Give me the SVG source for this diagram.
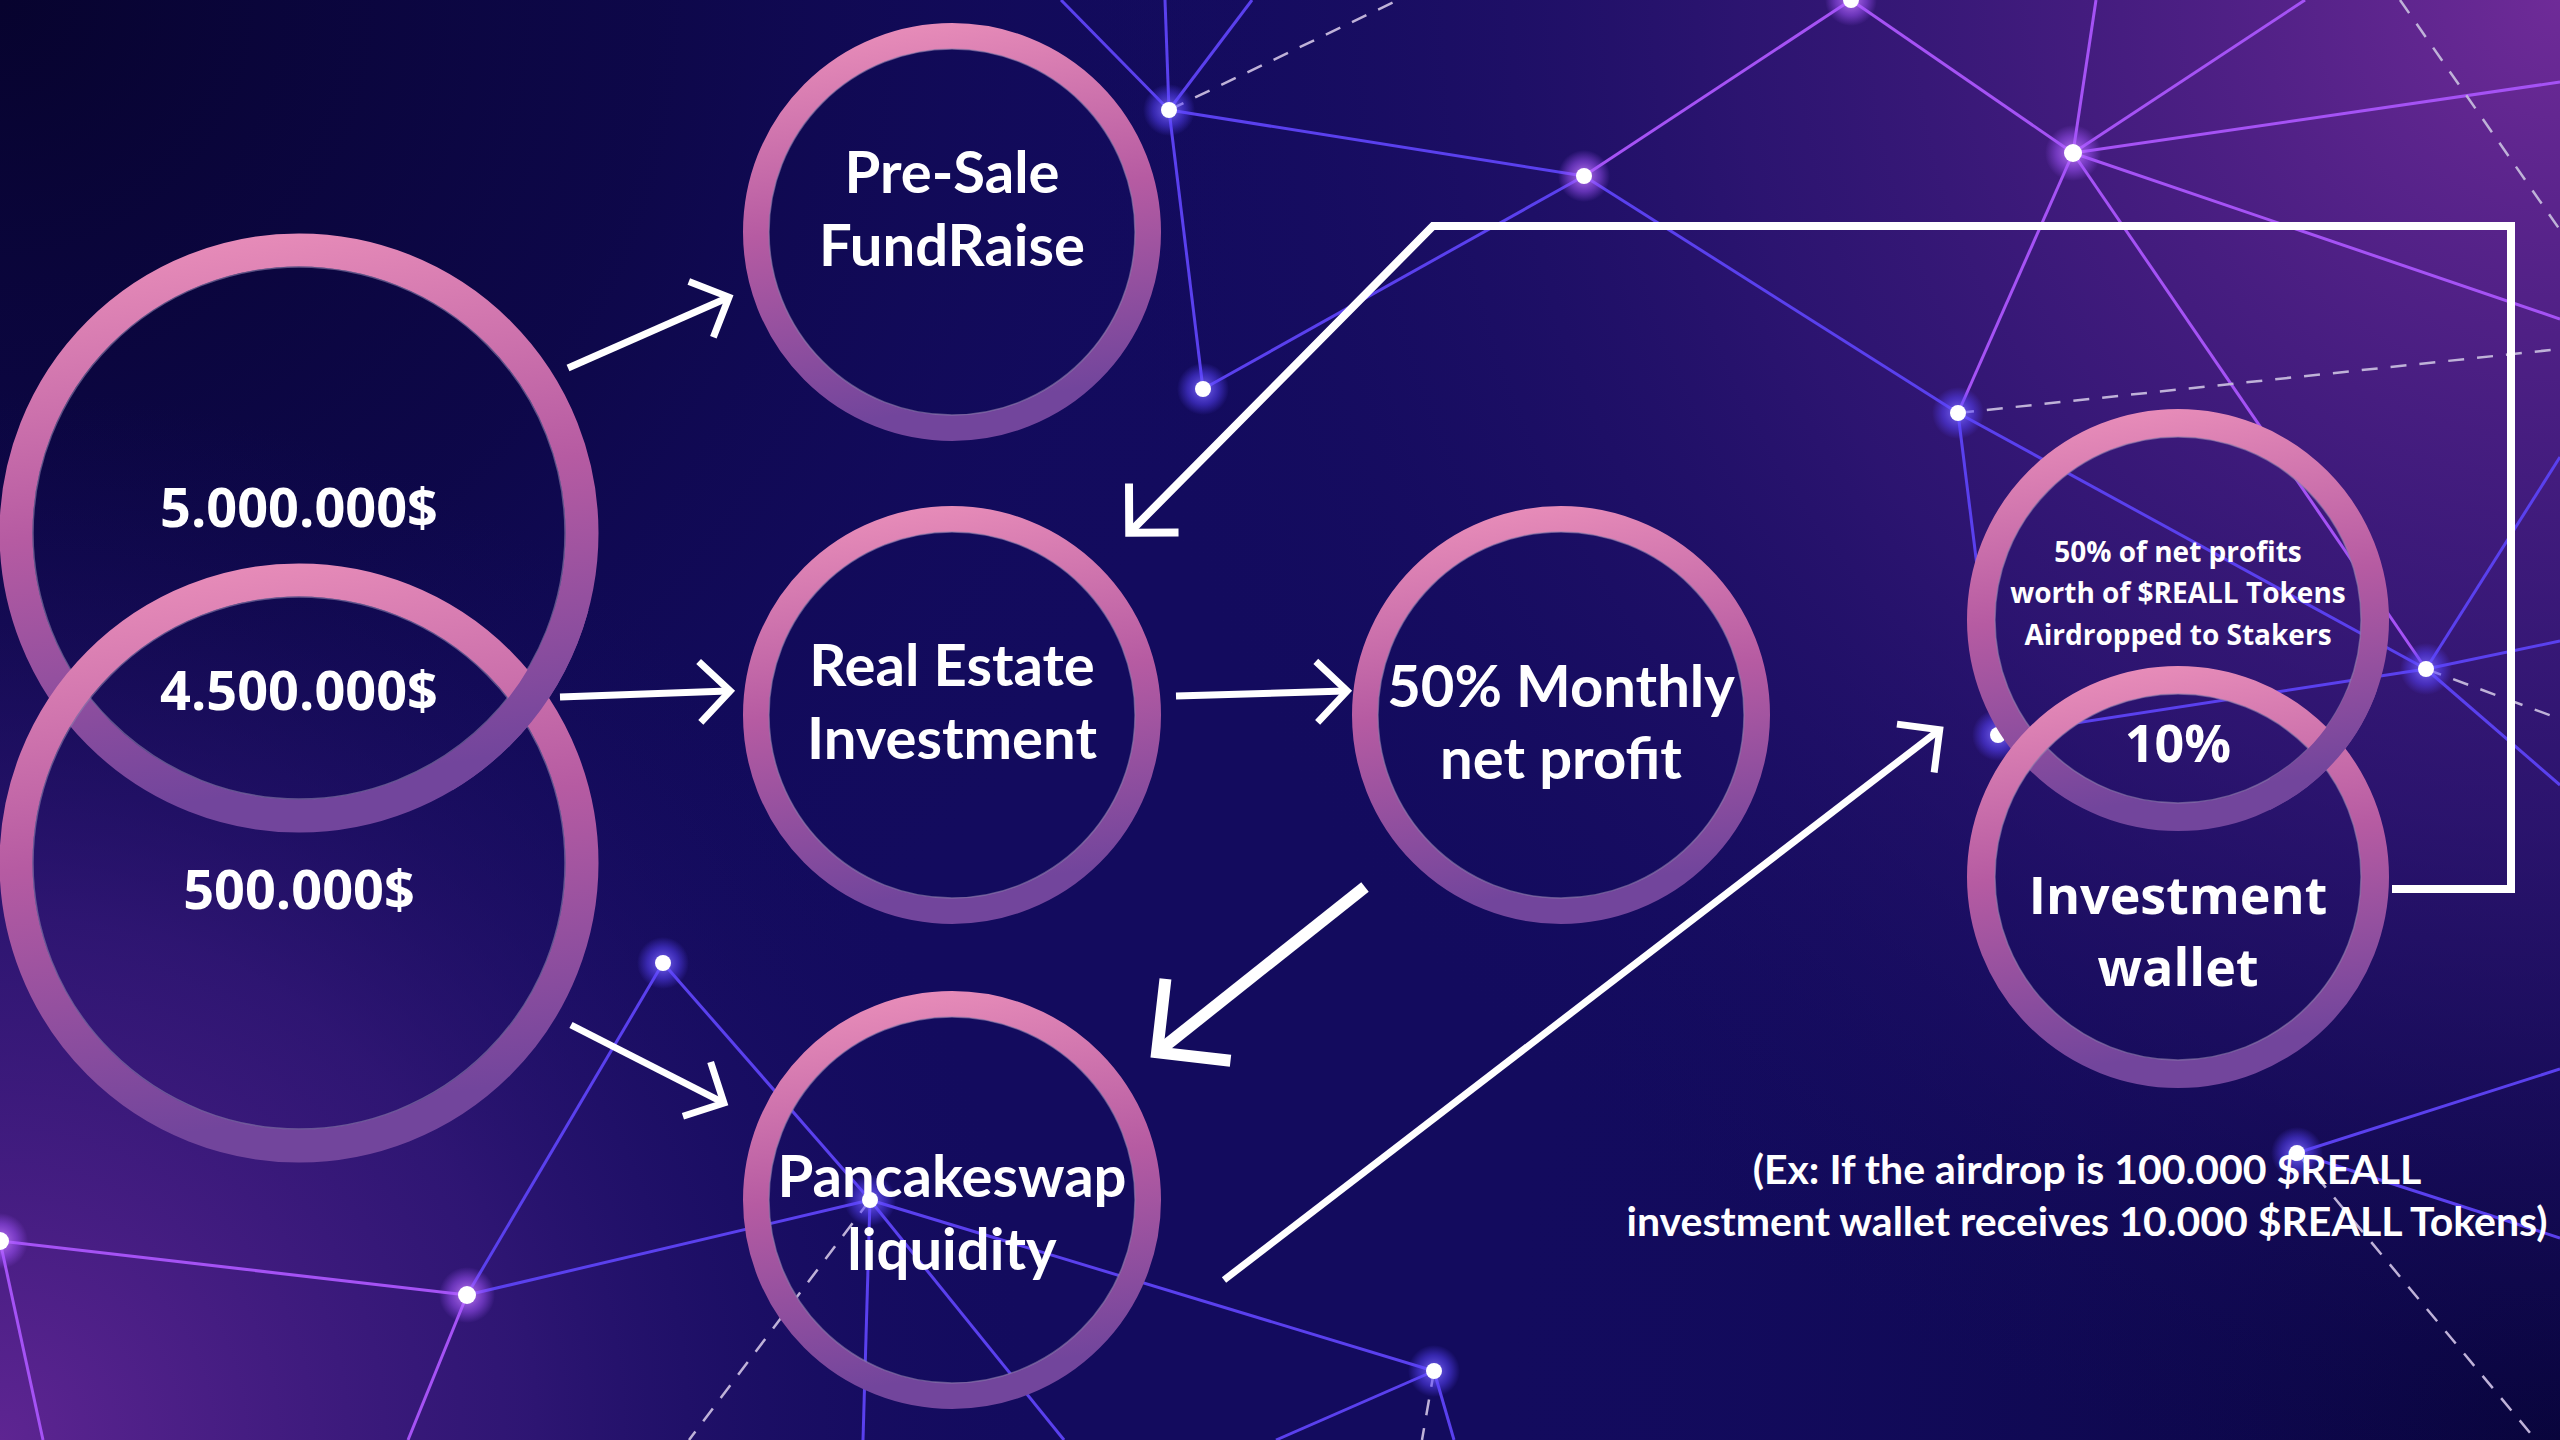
<svg xmlns="http://www.w3.org/2000/svg" width="2560" height="1440" viewBox="0 0 2560 1440">
<defs>
<style>
.net{stroke:#5a40ee;stroke-width:3;fill:none}
.netp{stroke:#a552f5;stroke-width:3;fill:none}
.dash{stroke:#bfb2d8;stroke-width:2.5;stroke-dasharray:16 13;fill:none}
.ring{fill:none;stroke:url(#ringGrad)}
.ringEdge{fill:none;stroke:#8e7fae;stroke-width:1.5;opacity:.6}
.cal{font-family:Lato,"Liberation Sans",sans-serif;font-weight:700;fill:#ffffff;text-anchor:middle}
.seg{font-family:"Open Sans","Noto Sans","Liberation Sans",sans-serif;font-weight:700;fill:#ffffff;text-anchor:middle}
.arrow{stroke:#ffffff;fill:none;stroke-linecap:butt;stroke-linejoin:miter;marker-end:url(#head)}
</style>
<linearGradient id="ringGrad" x1="0" y1="0" x2="0.15" y2="1">
<stop offset="0" stop-color="#ea8fba"/>
<stop offset="0.5" stop-color="#b65ba2"/>
<stop offset="1" stop-color="#72459c"/>
</linearGradient>
<radialGradient id="bgTR" cx="2560" cy="0" r="1500" gradientUnits="userSpaceOnUse">
<stop offset="0" stop-color="#6f2b98"/>
<stop offset="0.55" stop-color="#3c1a7c" stop-opacity="0.6"/>
<stop offset="1" stop-color="#130b5e" stop-opacity="0"/>
</radialGradient>
<radialGradient id="bgBL" cx="0" cy="1440" r="1050" gradientUnits="userSpaceOnUse">
<stop offset="0" stop-color="#5e2592"/>
<stop offset="0.5" stop-color="#3a1a7c" stop-opacity="0.7"/>
<stop offset="1" stop-color="#130b5e" stop-opacity="0"/>
</radialGradient>
<radialGradient id="bgTL" cx="0" cy="0" r="1300" gradientUnits="userSpaceOnUse">
<stop offset="0" stop-color="#07032e"/>
<stop offset="0.5" stop-color="#0b0640" stop-opacity="0.7"/>
<stop offset="1" stop-color="#130b5e" stop-opacity="0"/>
</radialGradient>
<radialGradient id="bgBR" cx="2560" cy="1440" r="1100" gradientUnits="userSpaceOnUse">
<stop offset="0" stop-color="#08043a"/>
<stop offset="1" stop-color="#130b5e" stop-opacity="0"/>
</radialGradient>
<radialGradient id="glowB">
<stop offset="0" stop-color="#8a78ff" stop-opacity="0.9"/>
<stop offset="0.6" stop-color="#5a44ff" stop-opacity="0.5"/>
<stop offset="1" stop-color="#5a44ff" stop-opacity="0"/>
</radialGradient>
<radialGradient id="glowP">
<stop offset="0" stop-color="#d08aff" stop-opacity="0.9"/>
<stop offset="0.6" stop-color="#a455ff" stop-opacity="0.5"/>
<stop offset="1" stop-color="#a455ff" stop-opacity="0"/>
</radialGradient>
<marker id="head" viewBox="-1 -1 9 16" refX="6.5" refY="7" markerWidth="5.6" markerHeight="10" orient="auto" markerUnits="strokeWidth" overflow="visible">
<path d="M0,0 L7,7 L0,14" fill="none" stroke="#ffffff" stroke-width="1.6" stroke-linejoin="miter"/>
</marker>
<clipPath id="clipLeftX"><rect x="440" y="610" width="180" height="180"/></clipPath>
<clipPath id="clipRightX"><rect x="2270" y="690" width="120" height="120"/></clipPath>
</defs>

<g id="background">
<rect x="0" y="0" width="2560" height="1440" fill="#130b5e"/>
<rect x="0" y="0" width="2560" height="1440" fill="url(#bgTL)"/>
<rect x="0" y="0" width="2560" height="1440" fill="url(#bgBR)"/>
<rect x="0" y="0" width="2560" height="1440" fill="url(#bgTR)"/>
<rect x="0" y="0" width="2560" height="1440" fill="url(#bgBL)"/>
</g>

<g id="network">
<line class="net" x1="1169" y1="110" x2="1061" y2="0"/>
<line class="net" x1="1169" y1="110" x2="1165" y2="0"/>
<line class="net" x1="1169" y1="110" x2="1252" y2="0"/>
<line class="net" x1="1169" y1="110" x2="1203" y2="389"/>
<line class="net" x1="1169" y1="110" x2="1584" y2="176"/>
<line class="net" x1="1203" y1="389" x2="1584" y2="176"/>
<line class="net" x1="1584" y1="176" x2="1958" y2="413"/>
<line class="net" x1="1958" y1="413" x2="1998" y2="735"/>
<line class="net" x1="1958" y1="413" x2="2426" y2="669"/>
<line class="net" x1="2426" y1="669" x2="1998" y2="735"/>
<line class="net" x1="2426" y1="669" x2="2560" y2="457"/>
<line class="net" x1="2426" y1="669" x2="2560" y2="641"/>
<line class="net" x1="2426" y1="669" x2="2560" y2="785"/>
<line class="net" x1="2297" y1="1153" x2="2560" y2="1069"/>
<line class="net" x1="2297" y1="1153" x2="2560" y2="1238"/>
<line class="net" x1="663" y1="963" x2="467" y2="1295"/>
<line class="net" x1="663" y1="963" x2="870" y2="1200"/>
<line class="net" x1="870" y1="1200" x2="467" y2="1295"/>
<line class="net" x1="870" y1="1200" x2="863" y2="1440"/>
<line class="net" x1="870" y1="1200" x2="1064" y2="1440"/>
<line class="net" x1="870" y1="1200" x2="1434" y2="1371"/>
<line class="net" x1="1434" y1="1371" x2="1276" y2="1440"/>
<line class="net" x1="1434" y1="1371" x2="1454" y2="1440"/>
<line class="netp" x1="1584" y1="176" x2="1851" y2="0"/>
<line class="netp" x1="1851" y1="0" x2="2073" y2="153"/>
<line class="netp" x1="2073" y1="153" x2="2096" y2="0"/>
<line class="netp" x1="2073" y1="153" x2="2305" y2="0"/>
<line class="netp" x1="2073" y1="153" x2="2560" y2="82"/>
<line class="netp" x1="2073" y1="153" x2="2560" y2="319"/>
<line class="netp" x1="2073" y1="153" x2="1958" y2="413"/>
<line class="netp" x1="2073" y1="153" x2="2426" y2="669"/>
<line class="netp" x1="467" y1="1295" x2="0" y2="1241"/>
<line class="netp" x1="467" y1="1295" x2="408" y2="1440"/>
<line class="netp" x1="0" y1="1241" x2="43" y2="1440"/>
<line class="dash" x1="1169" y1="110" x2="1398" y2="0"/>
<line class="dash" x1="1958" y1="413" x2="2560" y2="349"/>
<line class="dash" x1="2400" y1="0" x2="2560" y2="230"/>
<line class="dash" x1="2426" y1="669" x2="2560" y2="719"/>
<line class="dash" x1="2297" y1="1153" x2="2536" y2="1440"/>
<line class="dash" x1="870" y1="1200" x2="689" y2="1440"/>
<line class="dash" x1="1434" y1="1371" x2="1422" y2="1440"/>
<g id="dots">
<circle cx="1169" cy="110" r="26" fill="url(#glowB)"/><circle cx="1169" cy="110" r="8" fill="#fff"/>
<circle cx="1203" cy="389" r="26" fill="url(#glowB)"/><circle cx="1203" cy="389" r="8" fill="#fff"/>
<circle cx="1584" cy="176" r="26" fill="url(#glowP)"/><circle cx="1584" cy="176" r="8" fill="#fff"/>
<circle cx="1851" cy="0" r="26" fill="url(#glowP)"/><circle cx="1851" cy="0" r="8" fill="#fff"/>
<circle cx="2073" cy="153" r="28" fill="url(#glowP)"/><circle cx="2073" cy="153" r="9" fill="#fff"/>
<circle cx="1958" cy="413" r="26" fill="url(#glowB)"/><circle cx="1958" cy="413" r="8" fill="#fff"/>
<circle cx="2426" cy="669" r="26" fill="url(#glowB)"/><circle cx="2426" cy="669" r="8" fill="#fff"/>
<circle cx="1998" cy="735" r="26" fill="url(#glowB)"/><circle cx="1998" cy="735" r="8" fill="#fff"/>
<circle cx="663" cy="963" r="26" fill="url(#glowB)"/><circle cx="663" cy="963" r="8" fill="#fff"/>
<circle cx="467" cy="1295" r="28" fill="url(#glowP)"/><circle cx="467" cy="1295" r="9" fill="#fff"/>
<circle cx="0" cy="1241" r="28" fill="url(#glowP)"/><circle cx="0" cy="1241" r="9" fill="#fff"/>
<circle cx="1434" cy="1371" r="26" fill="url(#glowB)"/><circle cx="1434" cy="1371" r="8" fill="#fff"/>
<circle cx="2297" cy="1153" r="26" fill="url(#glowB)"/><circle cx="2297" cy="1153" r="8" fill="#fff"/>
<circle cx="870" cy="1200" r="26" fill="url(#glowB)"/><circle cx="870" cy="1200" r="8" fill="#fff"/>
</g>
</g>

<g id="node-5000000">
<circle class="ring" cx="299" cy="533" r="283" stroke-width="33"/>
<circle class="ringEdge" cx="299" cy="533" r="266"/>
</g>
<g id="node-500000">
<circle class="ring" cx="299" cy="863" r="283" stroke-width="33"/>
<circle class="ringEdge" cx="299" cy="863" r="266"/>
</g>
<g id="node-5000000-overlap" clip-path="url(#clipLeftX)">
<circle class="ring" cx="299" cy="533" r="283" stroke-width="33"/>
</g>
<g id="node-5000000-text">
<text class="seg" x="299" y="527" font-size="54">5.000.000$</text>
<text class="seg" x="299" y="710" font-size="54">4.500.000$</text>
<text class="seg" x="299" y="909" font-size="54">500.000$</text>
</g>

<g id="node-presale">
<circle class="ring" cx="952" cy="232" r="196" stroke-width="26"/>
<circle class="ringEdge" cx="952" cy="232" r="183"/>
<text class="cal" x="952" y="193" font-size="58">Pre-Sale</text>
<text class="cal" x="952" y="266" font-size="58">FundRaise</text>
</g>

<g id="node-realestate">
<circle class="ring" cx="952" cy="715" r="196" stroke-width="26"/>
<circle class="ringEdge" cx="952" cy="715" r="183"/>
<text class="cal" x="952" y="686" font-size="58">Real Estate</text>
<text class="cal" x="952" y="759" font-size="58">Investment</text>
</g>

<g id="node-monthly">
<circle class="ring" cx="1561" cy="715" r="196" stroke-width="26"/>
<circle class="ringEdge" cx="1561" cy="715" r="183"/>
<text class="cal" x="1561" y="707" font-size="58">50% Monthly</text>
<text class="cal" x="1561" y="779" font-size="58">net profit</text>
</g>

<g id="node-pancakeswap">
<circle class="ring" cx="952" cy="1200" r="196" stroke-width="26"/>
<circle class="ringEdge" cx="952" cy="1200" r="183"/>
<text class="cal" x="952" y="1197" font-size="58">Pancakeswap</text>
<text class="cal" x="952" y="1270" font-size="58">liquidity</text>
</g>

<g id="node-airdrop">
<circle class="ring" cx="2178" cy="620" r="197" stroke-width="28"/>
<circle class="ringEdge" cx="2178" cy="620" r="183"/>
</g>
<g id="node-wallet">
<circle class="ring" cx="2178" cy="877" r="197" stroke-width="28"/>
<circle class="ringEdge" cx="2178" cy="877" r="183"/>
</g>
<g id="node-airdrop-overlap" clip-path="url(#clipRightX)">
<circle class="ring" cx="2178" cy="620" r="197" stroke-width="28"/>
</g>
<g id="node-airdrop-text">
<text class="seg" x="2178" y="562" font-size="28">50% of net profits</text>
<text class="seg" x="2178" y="603" font-size="28">worth of $REALL Tokens</text>
<text class="seg" x="2178" y="645" font-size="28">Airdropped to Stakers</text>
<text class="seg" x="2178" y="762" font-size="52">10%</text>
<text class="seg" x="2178" y="914" font-size="52">Investment</text>
<text class="seg" x="2178" y="986" font-size="52">wallet</text>
</g>

<g id="note">
<text class="cal" x="2087" y="1184" font-size="41">(Ex: If the airdrop is 100.000 $REALL</text>
<text class="cal" x="2087" y="1236" font-size="41">investment wallet receives 10.000 $REALL Tokens)</text>
</g>

<g id="connectors">
<line class="arrow" x1="568" y1="368" x2="727" y2="298" stroke-width="7"/>
<line class="arrow" x1="560" y1="697" x2="728" y2="691" stroke-width="7"/>
<line class="arrow" x1="571" y1="1025" x2="722" y2="1102" stroke-width="7"/>
<line class="arrow" x1="1176" y1="696" x2="1345" y2="691" stroke-width="7"/>
<line class="arrow" x1="1365" y1="887" x2="1160" y2="1050" stroke-width="12"/>
<line class="arrow" x1="1224" y1="1280" x2="1938" y2="731" stroke-width="7"/>
<path class="arrow" d="M2392,889 H2511 V226 H1433 L1131,531" stroke-width="8"/>
</g>
</svg>
